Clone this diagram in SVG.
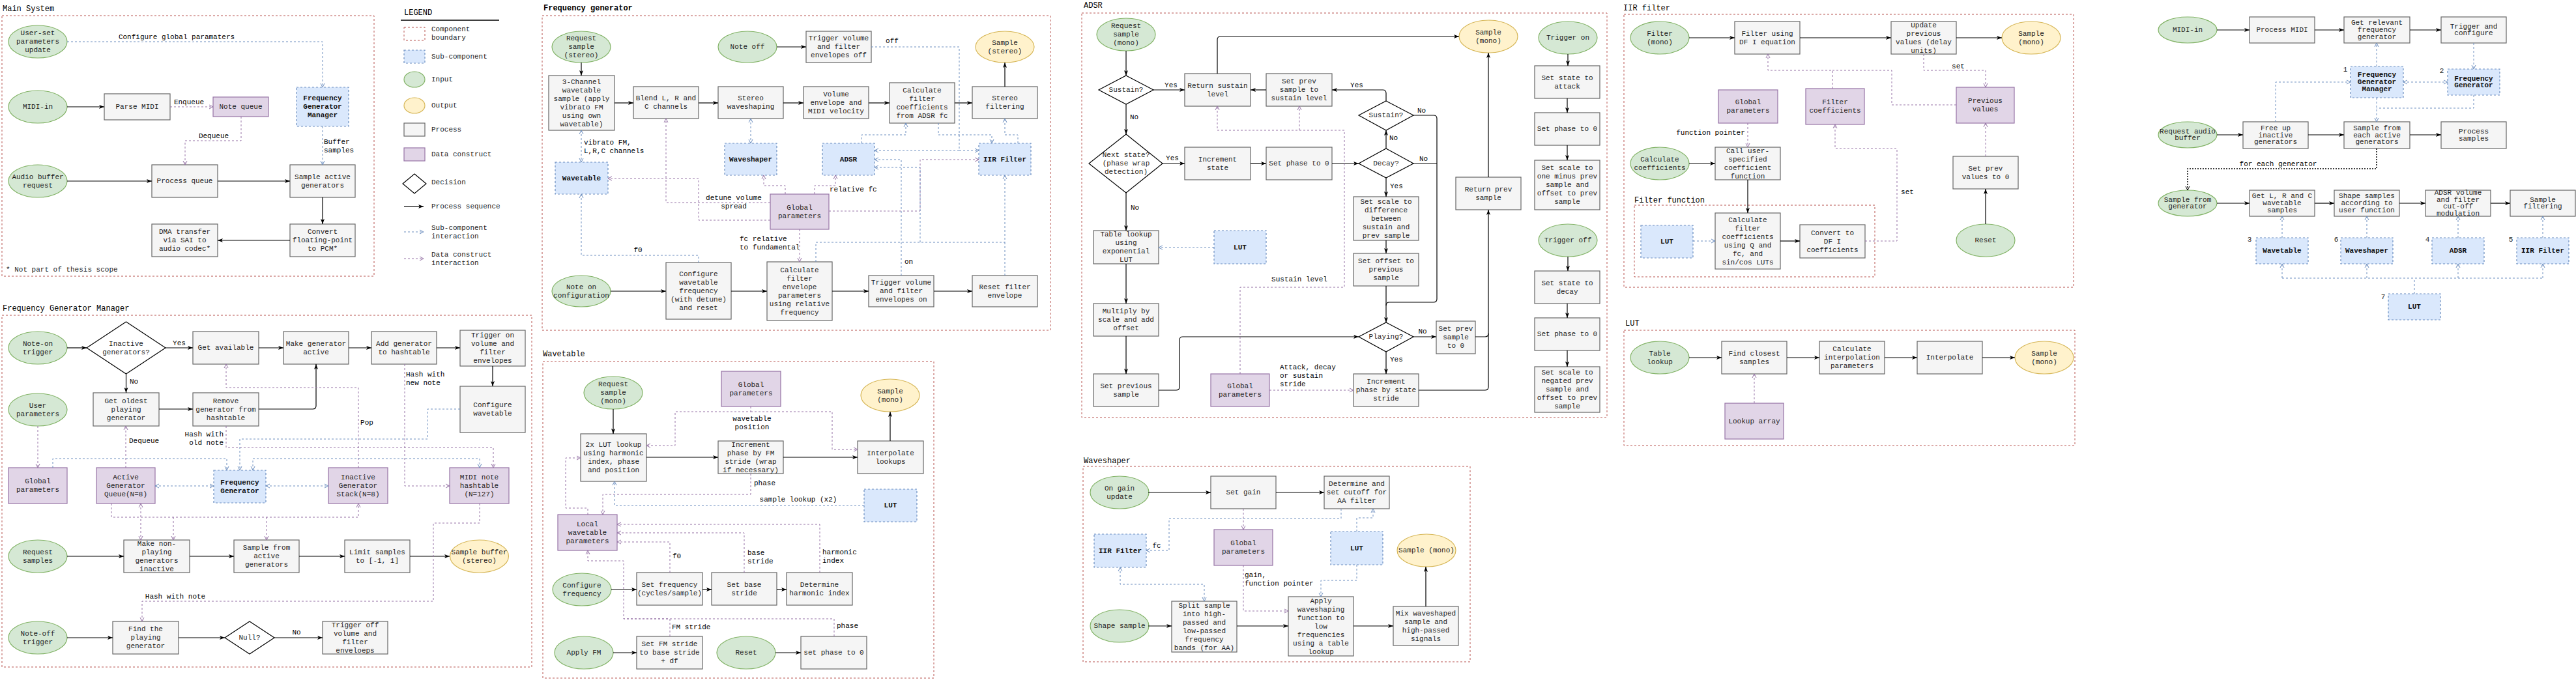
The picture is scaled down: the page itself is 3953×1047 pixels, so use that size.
<svg xmlns="http://www.w3.org/2000/svg" width="3953" height="1047" viewBox="0 0 3953 1047">
<defs>
<style>
text{font-family:"Liberation Mono","DejaVu Sans Mono",monospace;font-size:11px;fill:#222;}
tspan{dominant-baseline:central;}
.t{text-anchor:middle;dominant-baseline:central;}
.l{text-anchor:start;dominant-baseline:central;}
.r{text-anchor:end;dominant-baseline:central;}
.b{font-weight:bold;fill:#111;}
.h{font-size:12px;fill:#000;}
.lb{paint-order:stroke;stroke:#fff;stroke-width:3px;stroke-linejoin:round;fill:#000;}
.proc{fill:#f5f5f5;stroke:#666;stroke-width:1.2;}
.inp{fill:#d5e8d4;stroke:#82b366;stroke-width:1.2;}
.out{fill:#fff2cc;stroke:#d6b656;stroke-width:1.2;}
.data{fill:#e1d5e7;stroke:#9673a6;stroke-width:1.2;}
.sub{fill:#dae8fc;stroke:#6c8ebf;stroke-width:1.2;stroke-dasharray:3 3;}
.dec{fill:#fff;stroke:#000;stroke-width:1.2;}
.frame{fill:none;stroke:#b85450;stroke-width:1;stroke-dasharray:3 3;}
.c{fill:none;stroke:#000;stroke-width:1.2;marker-end:url(#a);}
.cn{fill:none;stroke:#000;stroke-width:1.2;}
.cb{fill:none;stroke:#6c8ebf;stroke-width:1;stroke-dasharray:3 3;marker-end:url(#ab);}
.cbn{fill:none;stroke:#6c8ebf;stroke-width:1;stroke-dasharray:3 3;}
.cb2{marker-start:url(#ab);}
.cp{fill:none;stroke:#9673a6;stroke-width:1;stroke-dasharray:3 3;marker-end:url(#ap);}
.cpn{fill:none;stroke:#9673a6;stroke-width:1;stroke-dasharray:3 3;}
.cp2{marker-start:url(#ap);}
.ck{fill:none;stroke:#000;stroke-width:1.5;stroke-dasharray:2 2;marker-end:url(#ak);}
</style>
<marker id="a" viewBox="0 0 8 8" refX="8" refY="4" markerWidth="8" markerHeight="8" orient="auto-start-reverse" markerUnits="userSpaceOnUse"><path d="M0,1 L8,4 L0,7 L2,4 z" fill="#000"/></marker>
<marker id="ab" viewBox="0 0 8 8" refX="7" refY="4" markerWidth="8" markerHeight="8" orient="auto-start-reverse" markerUnits="userSpaceOnUse"><path d="M1,1 L7,4 L1,7" fill="none" stroke="#6c8ebf" stroke-width="1"/></marker>
<marker id="ap" viewBox="0 0 8 8" refX="7" refY="4" markerWidth="8" markerHeight="8" orient="auto-start-reverse" markerUnits="userSpaceOnUse"><path d="M1,1 L7,4 L1,7" fill="none" stroke="#9673a6" stroke-width="1"/></marker>
<marker id="ak" viewBox="0 0 8 8" refX="7" refY="4" markerWidth="8" markerHeight="8" orient="auto-start-reverse" markerUnits="userSpaceOnUse"><path d="M1,1 L7,4 L1,7" fill="none" stroke="#000" stroke-width="1"/></marker>
</defs>
<rect x="0" y="0" width="3953" height="1047" fill="#fff"/>

<!-- ===== Frames and titles ===== -->
<g id="frames">
<text class="l h" x="4" y="14">Main System</text>
<rect class="frame" x="3" y="24" width="571" height="400"/>
<text class="l h" x="4" y="474">Frequency Generator Manager</text>
<rect class="frame" x="3" y="484" width="813" height="540"/>
<text class="l h b" x="834" y="13">Frequency generator</text>
<rect class="frame" x="832" y="24" width="780" height="483"/>
<text class="l h" x="833" y="544">Wavetable</text>
<rect class="frame" x="833" y="555" width="600" height="486"/>
<text class="l h" x="1663" y="9">ADSR</text>
<rect class="frame" x="1660" y="20" width="806" height="621"/>
<text class="l h" x="1663" y="708">Waveshaper</text>
<rect class="frame" x="1662" y="716" width="594" height="300"/>
<text class="l h" x="2491" y="13">IIR filter</text>
<rect class="frame" x="2492" y="22" width="690" height="419"/>
<text class="l h" x="2508" y="308">Filter function</text>
<rect class="frame" x="2508" y="315" width="369" height="110"/>
<text class="l h" x="2494" y="497">LUT</text>
<rect class="frame" x="2492" y="507" width="692" height="177"/>
</g>

<!-- ===== Legend ===== -->
<g id="legend">
<text class="l h" x="620" y="20">LEGEND</text>
<line x1="615" y1="31" x2="766" y2="31" stroke="#000" stroke-width="1.5"/>
<rect class="frame" x="620" y="42" width="32" height="20" stroke-width="2"/>
<text class="l" x="662" y="45"><tspan x="662">Component</tspan><tspan x="662" dy="13">boundary</tspan></text>
<rect class="sub" x="620" y="77" width="32" height="20" stroke-width="2"/>
<text class="l" x="662" y="87">Sub-component</text>
<ellipse class="inp" cx="636" cy="122" rx="16" ry="12"/>
<text class="l" x="662" y="122">Input</text>
<ellipse class="out" cx="636" cy="162" rx="16" ry="12"/>
<text class="l" x="662" y="162">Output</text>
<rect class="proc" x="620" y="189" width="32" height="20"/>
<text class="l" x="662" y="199">Process</text>
<rect class="data" x="620" y="227" width="32" height="20"/>
<text class="l" x="662" y="237">Data construct</text>
<polygon class="dec" points="636,267 654,282 636,297 618,282"/>
<text class="l" x="662" y="280">Decision</text>
<path class="c" d="M620,317 H650" stroke-width="1.6"/>
<text class="l" x="662" y="317">Process sequence</text>
<path class="cb" d="M620,356 H650"/>
<text class="l" x="662" y="350"><tspan x="662">Sub-component</tspan><tspan x="662" dy="13">interaction</tspan></text>
<path class="cp" d="M620,397 H650"/>
<text class="l" x="662" y="391"><tspan x="662">Data construct</tspan><tspan x="662" dy="13">interaction</tspan></text>
</g>

<!-- ===== Main System nodes ===== -->
<g id="ms-user"><ellipse class="inp" cx="58" cy="64" rx="45" ry="25"/><text class="t" x="58" y="51"><tspan x="58">User-set</tspan><tspan x="58" dy="13">parameters</tspan><tspan x="58" dy="13">update</tspan></text></g>
<g id="ms-midi"><ellipse class="inp" cx="58" cy="164" rx="45" ry="25"/><text class="t" x="58" y="164">MIDI-in</text></g>
<g id="ms-audio"><ellipse class="inp" cx="58" cy="278" rx="45" ry="25"/><text class="t" x="58" y="271.5"><tspan x="58">Audio buffer</tspan><tspan x="58" dy="13">request</tspan></text></g>
<g id="ms-parse"><rect class="proc" x="160" y="144" width="101" height="40"/><text class="t" x="210.5" y="164">Parse MIDI</text></g>
<g id="ms-noteq"><rect class="data" x="327" y="149" width="85" height="30"/><text class="t" x="369.5" y="164">Note queue</text></g>
<g id="ms-fgm"><rect class="sub" x="455" y="134" width="80" height="60"/><text class="t b" x="495" y="151"><tspan x="495">Frequency</tspan><tspan x="495" dy="13">Generator</tspan><tspan x="495" dy="13">Manager</tspan></text></g>
<g id="ms-procq"><rect class="proc" x="233" y="253" width="101" height="50"/><text class="t" x="283.5" y="278">Process queue</text></g>
<g id="ms-sample"><rect class="proc" x="445" y="253" width="100" height="50"/><text class="t" x="495" y="271.5"><tspan x="495">Sample active</tspan><tspan x="495" dy="13">generators</tspan></text></g>
<g id="ms-convert"><rect class="proc" x="445" y="344" width="100" height="50"/><text class="t" x="495" y="356"><tspan x="495">Convert</tspan><tspan x="495" dy="13">floating-point</tspan><tspan x="495" dy="13">to PCM*</tspan></text></g>
<g id="ms-dma"><rect class="proc" x="233" y="344" width="101" height="50"/><text class="t" x="283.5" y="356"><tspan x="283.5">DMA transfer</tspan><tspan x="283.5" dy="13">via SAI to</tspan><tspan x="283.5" dy="13">audio codec*</tspan></text></g>
<g id="ms-note"><text class="l" x="9" y="414">* Not part of thesis scope</text></g>

<!-- ===== FGM nodes ===== -->
<g id="fgm-noteon"><ellipse class="inp" cx="58" cy="534" rx="45" ry="25"/><text class="t" x="58" y="527.5"><tspan x="58">Note-on</tspan><tspan x="58" dy="13">trigger</tspan></text></g>
<g id="fgm-inactive"><polygon class="dec" points="193.5,494 254,534 193.5,574 133,534"/><text class="t" x="193.5" y="527.5"><tspan x="193.5">Inactive</tspan><tspan x="193.5" dy="13">generators?</tspan></text></g>
<g id="fgm-getavail"><rect class="proc" x="296" y="509" width="101" height="50"/><text class="t" x="346.5" y="534">Get available</text></g>
<g id="fgm-make"><rect class="proc" x="435" y="509" width="100" height="50"/><text class="t" x="485" y="527.5"><tspan x="485">Make generator</tspan><tspan x="485" dy="13">active</tspan></text></g>
<g id="fgm-add"><rect class="proc" x="570" y="509" width="100" height="50"/><text class="t" x="620" y="527.5"><tspan x="620">Add generator</tspan><tspan x="620" dy="13">to hashtable</tspan></text></g>
<g id="fgm-trigon"><rect class="proc" x="706" y="507" width="100" height="55"/><text class="t" x="756" y="515"><tspan x="756">Trigger on</tspan><tspan x="756" dy="13">volume and</tspan><tspan x="756" dy="13">filter</tspan><tspan x="756" dy="13">envelopes</tspan></text></g>
<g id="fgm-config"><rect class="proc" x="706" y="593" width="100" height="71"/><text class="t" x="756" y="622"><tspan x="756">Configure</tspan><tspan x="756" dy="13">wavetable</tspan></text></g>
<g id="fgm-user"><ellipse class="inp" cx="58" cy="629" rx="45" ry="25"/><text class="t" x="58" y="622.5"><tspan x="58">User</tspan><tspan x="58" dy="13">parameters</tspan></text></g>
<g id="fgm-oldest"><rect class="proc" x="143" y="603" width="101" height="51"/><text class="t" x="193.5" y="615.5"><tspan x="193.5">Get oldest</tspan><tspan x="193.5" dy="13">playing</tspan><tspan x="193.5" dy="13">generator</tspan></text></g>
<g id="fgm-remove"><rect class="proc" x="296" y="603" width="101" height="51"/><text class="t" x="346.5" y="615.5"><tspan x="346.5">Remove</tspan><tspan x="346.5" dy="13">generator from</tspan><tspan x="346.5" dy="13">hashtable</tspan></text></g>
<g id="fgm-global"><rect class="data" x="13" y="718" width="90" height="55"/><text class="t" x="58" y="739"><tspan x="58">Global</tspan><tspan x="58" dy="13">parameters</tspan></text></g>
<g id="fgm-activeq"><rect class="data" x="148" y="718" width="90" height="55"/><text class="t" x="193" y="732.5"><tspan x="193">Active</tspan><tspan x="193" dy="13">Generator</tspan><tspan x="193" dy="13">Queue(N=8)</tspan></text></g>
<g id="fgm-fg"><rect class="sub" x="328" y="722" width="80" height="50"/><text class="t b" x="368" y="740.5"><tspan x="368">Frequency</tspan><tspan x="368" dy="13">Generator</tspan></text></g>
<g id="fgm-stack"><rect class="data" x="504" y="718" width="91" height="55"/><text class="t" x="549.5" y="732.5"><tspan x="549.5">Inactive</tspan><tspan x="549.5" dy="13">Generator</tspan><tspan x="549.5" dy="13">Stack(N=8)</tspan></text></g>
<g id="fgm-hash"><rect class="data" x="690" y="718" width="91" height="55"/><text class="t" x="735.5" y="732.5"><tspan x="735.5">MIDI note</tspan><tspan x="735.5" dy="13">hashtable</tspan><tspan x="735.5" dy="13">(N=127)</tspan></text></g>
<g id="fgm-req"><ellipse class="inp" cx="58" cy="854" rx="45" ry="25"/><text class="t" x="58" y="847.5"><tspan x="58">Request</tspan><tspan x="58" dy="13">samples</tspan></text></g>
<g id="fgm-makenp"><rect class="proc" x="190" y="829" width="101" height="50"/><text class="t" x="240.5" y="834.5"><tspan x="240.5">Make non-</tspan><tspan x="240.5" dy="13">playing</tspan><tspan x="240.5" dy="13">generators</tspan><tspan x="240.5" dy="13">inactive</tspan></text></g>
<g id="fgm-samplefrom"><rect class="proc" x="359" y="829" width="100" height="50"/><text class="t" x="409" y="841"><tspan x="409">Sample from</tspan><tspan x="409" dy="13">active</tspan><tspan x="409" dy="13">generators</tspan></text></g>
<g id="fgm-limit"><rect class="proc" x="529" y="829" width="100" height="50"/><text class="t" x="579" y="847.5"><tspan x="579">Limit samples</tspan><tspan x="579" dy="13">to [-1, 1]</tspan></text></g>
<g id="fgm-buffer"><ellipse class="out" cx="735.5" cy="854" rx="45" ry="25"/><text class="t" x="735.5" y="847.5"><tspan x="735.5">Sample buffer</tspan><tspan x="735.5" dy="13">(stereo)</tspan></text></g>
<g id="fgm-noteoff"><ellipse class="inp" cx="58" cy="979" rx="45" ry="25"/><text class="t" x="58" y="972.5"><tspan x="58">Note-off</tspan><tspan x="58" dy="13">trigger</tspan></text></g>
<g id="fgm-find"><rect class="proc" x="173" y="954" width="101" height="50"/><text class="t" x="223.5" y="966"><tspan x="223.5">Find the</tspan><tspan x="223.5" dy="13">playing</tspan><tspan x="223.5" dy="13">generator</tspan></text></g>
<g id="fgm-null"><polygon class="dec" points="383,954 421,979 383,1004 345,979"/><text class="t" x="383" y="979">Null?</text></g>
<g id="fgm-trigoff"><rect class="proc" x="495" y="954" width="100" height="50"/><text class="t" x="545" y="959.5"><tspan x="545">Trigger off</tspan><tspan x="545" dy="13">volume and</tspan><tspan x="545" dy="13">filter</tspan><tspan x="545" dy="13">enveloeps</tspan></text></g>

<!-- ===== Frequency generator nodes ===== -->
<g id="fg-req"><ellipse class="inp" cx="892" cy="72" rx="45" ry="24"/><text class="t" x="892" y="59"><tspan x="892">Request</tspan><tspan x="892" dy="13">sample</tspan><tspan x="892" dy="13">(stereo)</tspan></text></g>
<g id="fg-3ch"><rect class="proc" x="842" y="116" width="101" height="84"/><text class="t" x="892.5" y="125.5"><tspan x="892.5">3-Channel</tspan><tspan x="892.5" dy="13">wavetable</tspan><tspan x="892.5" dy="13">sample (apply</tspan><tspan x="892.5" dy="13">vibrato FM</tspan><tspan x="892.5" dy="13">using own</tspan><tspan x="892.5" dy="13">wavetable)</tspan></text></g>
<g id="fg-blend"><rect class="proc" x="972" y="133" width="100" height="49"/><text class="t" x="1022" y="151"><tspan x="1022">Blend L, R and</tspan><tspan x="1022" dy="13">C channels</tspan></text></g>
<g id="fg-shape"><rect class="proc" x="1102" y="133" width="100" height="49"/><text class="t" x="1152" y="151"><tspan x="1152">Stereo</tspan><tspan x="1152" dy="13">waveshaping</tspan></text></g>
<g id="fg-vol"><rect class="proc" x="1233" y="133" width="100" height="49"/><text class="t" x="1283" y="144.5"><tspan x="1283">Volume</tspan><tspan x="1283" dy="13">envelope and</tspan><tspan x="1283" dy="13">MIDI velocity</tspan></text></g>
<g id="fg-calc"><rect class="proc" x="1365" y="127" width="100" height="62"/><text class="t" x="1415" y="138.5"><tspan x="1415">Calculate</tspan><tspan x="1415" dy="13">filter</tspan><tspan x="1415" dy="13">coefficients</tspan><tspan x="1415" dy="13">from ADSR fc</tspan></text></g>
<g id="fg-filt"><rect class="proc" x="1492" y="133" width="100" height="49"/><text class="t" x="1542" y="151"><tspan x="1542">Stereo</tspan><tspan x="1542" dy="13">filtering</tspan></text></g>
<g id="fg-out"><ellipse class="out" cx="1542" cy="72" rx="45" ry="24"/><text class="t" x="1542" y="65.5"><tspan x="1542">Sample</tspan><tspan x="1542" dy="13">(stereo)</tspan></text></g>
<g id="fg-noteoff"><ellipse class="inp" cx="1147" cy="72" rx="45" ry="24"/><text class="t" x="1147" y="72">Note off</text></g>
<g id="fg-trigoff"><rect class="proc" x="1237" y="48" width="100" height="48"/><text class="t" x="1287" y="59"><tspan x="1287">Trigger volume</tspan><tspan x="1287" dy="13">and filter</tspan><tspan x="1287" dy="13">envelopes off</tspan></text></g>
<g id="fg-wt"><rect class="sub" x="852" y="249" width="81" height="49"/><text class="t b" x="892.5" y="273.5">Wavetable</text></g>
<g id="fg-ws"><rect class="sub" x="1112" y="220" width="80" height="49"/><text class="t b" x="1152" y="244.5">Waveshaper</text></g>
<g id="fg-global"><rect class="data" x="1182" y="298" width="90" height="54"/><text class="t" x="1227" y="318.5"><tspan x="1227">Global</tspan><tspan x="1227" dy="13">parameters</tspan></text></g>
<g id="fg-adsr"><rect class="sub" x="1262" y="220" width="80" height="49"/><text class="t b" x="1302" y="244.5">ADSR</text></g>
<g id="fg-iir"><rect class="sub" x="1502" y="220" width="80" height="49"/><text class="t b" x="1542" y="244.5">IIR Filter</text></g>
<g id="fg-noteon"><ellipse class="inp" cx="892" cy="447" rx="45" ry="24"/><text class="t" x="892" y="440.5"><tspan x="892">Note on</tspan><tspan x="892" dy="13">configuration</tspan></text></g>
<g id="fg-cfg"><rect class="proc" x="1022" y="403" width="100" height="87"/><text class="t" x="1072" y="420.5"><tspan x="1072">Configure</tspan><tspan x="1072" dy="13">wavetable</tspan><tspan x="1072" dy="13">frequency</tspan><tspan x="1072" dy="13">(with detune)</tspan><tspan x="1072" dy="13">and reset</tspan></text></g>
<g id="fg-calcenv"><rect class="proc" x="1177" y="402" width="100" height="90"/><text class="t" x="1227" y="414.5"><tspan x="1227">Calculate</tspan><tspan x="1227" dy="13">filter</tspan><tspan x="1227" dy="13">envelope</tspan><tspan x="1227" dy="13">parameters</tspan><tspan x="1227" dy="13">using relative</tspan><tspan x="1227" dy="13">frequency</tspan></text></g>
<g id="fg-trigon"><rect class="proc" x="1333" y="423" width="100" height="48"/><text class="t" x="1383" y="434"><tspan x="1383">Trigger volume</tspan><tspan x="1383" dy="13">and filter</tspan><tspan x="1383" dy="13">envelopes on</tspan></text></g>
<g id="fg-reset"><rect class="proc" x="1492" y="423" width="100" height="48"/><text class="t" x="1542" y="440.5"><tspan x="1542">Reset filter</tspan><tspan x="1542" dy="13">envelope</tspan></text></g>

<!-- ===== Wavetable nodes ===== -->
<g id="wt-req"><ellipse class="inp" cx="941" cy="603" rx="45" ry="25"/><text class="t" x="941" y="590"><tspan x="941">Request</tspan><tspan x="941" dy="13">sample</tspan><tspan x="941" dy="13">(mono)</tspan></text></g>
<g id="wt-global"><rect class="data" x="1107" y="570" width="91" height="54"/><text class="t" x="1152.5" y="590.5"><tspan x="1152.5">Global</tspan><tspan x="1152.5" dy="13">parameters</tspan></text></g>
<g id="wt-out"><ellipse class="out" cx="1366" cy="607" rx="45" ry="25"/><text class="t" x="1366" y="600.5"><tspan x="1366">Sample</tspan><tspan x="1366" dy="13">(mono)</tspan></text></g>
<g id="wt-lut2"><rect class="proc" x="891" y="666" width="101" height="73"/><text class="t" x="941.5" y="683"><tspan x="941.5">2x LUT lookup</tspan><tspan x="941.5" dy="13">using harmonic</tspan><tspan x="941.5" dy="13">index, phase</tspan><tspan x="941.5" dy="13">and position</tspan></text></g>
<g id="wt-inc"><rect class="proc" x="1102" y="677" width="100" height="50"/><text class="t" x="1152" y="682.5"><tspan x="1152">Increment</tspan><tspan x="1152" dy="13">phase by FM</tspan><tspan x="1152" dy="13">stride (wrap</tspan><tspan x="1152" dy="13">if necessary)</tspan></text></g>
<g id="wt-interp"><rect class="proc" x="1316" y="677" width="101" height="50"/><text class="t" x="1366.5" y="695.5"><tspan x="1366.5">Interpolate</tspan><tspan x="1366.5" dy="13">lookups</tspan></text></g>
<g id="wt-lut"><rect class="sub" x="1326" y="751" width="81" height="50"/><text class="t b" x="1366.5" y="776">LUT</text></g>
<g id="wt-local"><rect class="data" x="856" y="790" width="91" height="55"/><text class="t" x="901.5" y="804.5"><tspan x="901.5">Local</tspan><tspan x="901.5" dy="13">wavetable</tspan><tspan x="901.5" dy="13">parameters</tspan></text></g>
<g id="wt-cfg"><ellipse class="inp" cx="893" cy="905" rx="45" ry="25"/><text class="t" x="893" y="898.5"><tspan x="893">Configure</tspan><tspan x="893" dy="13">frequency</tspan></text></g>
<g id="wt-setf"><rect class="proc" x="977" y="879" width="101" height="50"/><text class="t" x="1027.5" y="897.5"><tspan x="1027.5">Set frequency</tspan><tspan x="1027.5" dy="13">(cycles/sample)</tspan></text></g>
<g id="wt-base"><rect class="proc" x="1092" y="879" width="100" height="50"/><text class="t" x="1142" y="897.5"><tspan x="1142">Set base</tspan><tspan x="1142" dy="13">stride</tspan></text></g>
<g id="wt-harm"><rect class="proc" x="1207" y="879" width="101" height="50"/><text class="t" x="1257.5" y="897.5"><tspan x="1257.5">Determine</tspan><tspan x="1257.5" dy="13">harmonic index</tspan></text></g>
<g id="wt-fm"><ellipse class="inp" cx="896" cy="1002" rx="45" ry="25"/><text class="t" x="896" y="1002">Apply FM</text></g>
<g id="wt-setfm"><rect class="proc" x="977" y="977" width="101" height="50"/><text class="t" x="1027.5" y="989"><tspan x="1027.5">Set FM stride</tspan><tspan x="1027.5" dy="13">to base stride</tspan><tspan x="1027.5" dy="13">+ df</tspan></text></g>
<g id="wt-reset"><ellipse class="inp" cx="1145" cy="1002" rx="45" ry="25"/><text class="t" x="1145" y="1002">Reset</text></g>
<g id="wt-phase"><rect class="proc" x="1229" y="977" width="101" height="50"/><text class="t" x="1279.5" y="1002">set phase to 0</text></g>

<!-- ===== ADSR nodes ===== -->
<g id="ad-req"><ellipse class="inp" cx="1728" cy="53" rx="45" ry="25"/><text class="t" x="1728" y="40"><tspan x="1728">Request</tspan><tspan x="1728" dy="13">sample</tspan><tspan x="1728" dy="13">(mono)</tspan></text></g>
<g id="ad-sus1"><polygon class="dec" points="1728,116 1770,138 1728,160 1686,138"/><text class="t" x="1728" y="138">Sustain?</text></g>
<g id="ad-retsus"><rect class="proc" x="1818" y="113" width="101" height="50"/><text class="t" x="1868.5" y="131.5"><tspan x="1868.5">Return sustain</tspan><tspan x="1868.5" dy="13">level</tspan></text></g>
<g id="ad-setprev"><rect class="proc" x="1943" y="113" width="101" height="50"/><text class="t" x="1993.5" y="125"><tspan x="1993.5">Set prev</tspan><tspan x="1993.5" dy="13">sample to</tspan><tspan x="1993.5" dy="13">sustain level</tspan></text></g>
<g id="ad-out"><ellipse class="out" cx="2284" cy="56" rx="45" ry="25"/><text class="t" x="2284" y="49.5"><tspan x="2284">Sample</tspan><tspan x="2284" dy="13">(mono)</tspan></text></g>
<g id="ad-trigon"><ellipse class="inp" cx="2406" cy="58" rx="45" ry="25"/><text class="t" x="2406" y="58">Trigger on</text></g>
<g id="ad-attack"><rect class="proc" x="2355" y="101" width="100" height="50"/><text class="t" x="2405" y="119.5"><tspan x="2405">Set state to</tspan><tspan x="2405" dy="13">attack</tspan></text></g>
<g id="ad-phase1"><rect class="proc" x="2355" y="173" width="100" height="50"/><text class="t" x="2405" y="198">Set phase to 0</text></g>
<g id="ad-scale1"><rect class="proc" x="2355" y="246" width="100" height="76"/><text class="t" x="2405" y="258"><tspan x="2405">Set scale to</tspan><tspan x="2405" dy="13">one minus prev</tspan><tspan x="2405" dy="13">sample and</tspan><tspan x="2405" dy="13">offset to prev</tspan><tspan x="2405" dy="13">sample</tspan></text></g>
<g id="ad-next"><polygon class="dec" points="1728,206 1784,251 1728,296 1671,251"/><text class="t" x="1728" y="238"><tspan x="1728">Next state?</tspan><tspan x="1728" dy="13">(phase wrap</tspan><tspan x="1728" dy="13">detection)</tspan></text></g>
<g id="ad-incstate"><rect class="proc" x="1818" y="226" width="101" height="50"/><text class="t" x="1868.5" y="244.5"><tspan x="1868.5">Increment</tspan><tspan x="1868.5" dy="13">state</tspan></text></g>
<g id="ad-phase0"><rect class="proc" x="1943" y="226" width="101" height="50"/><text class="t" x="1993.5" y="251">Set phase to 0</text></g>
<g id="ad-sus2"><polygon class="dec" points="2127,155 2169,177 2127,200 2085,177"/><text class="t" x="2127" y="177">Sustain?</text></g>
<g id="ad-decay"><polygon class="dec" points="2127,228 2169,251 2127,273 2085,251"/><text class="t" x="2127" y="251">Decay?</text></g>
<g id="ad-scale2"><rect class="proc" x="2077" y="302" width="100" height="67"/><text class="t" x="2127" y="309.5"><tspan x="2127">Set scale to</tspan><tspan x="2127" dy="13">difference</tspan><tspan x="2127" dy="13">between</tspan><tspan x="2127" dy="13">sustain and</tspan><tspan x="2127" dy="13">prev sample</tspan></text></g>
<g id="ad-retprev"><rect class="proc" x="2234" y="272" width="100" height="50"/><text class="t" x="2284" y="290.5"><tspan x="2284">Return prev</tspan><tspan x="2284" dy="13">sample</tspan></text></g>
<g id="ad-table"><rect class="proc" x="1678" y="354" width="100" height="51"/><text class="t" x="1728" y="360"><tspan x="1728">Table lookup</tspan><tspan x="1728" dy="13">using</tspan><tspan x="1728" dy="13">exponential</tspan><tspan x="1728" dy="13">LUT</tspan></text></g>
<g id="ad-lut"><rect class="sub" x="1863" y="354" width="80" height="51"/><text class="t b" x="1903" y="379.5">LUT</text></g>
<g id="ad-offset"><rect class="proc" x="2077" y="389" width="100" height="50"/><text class="t" x="2127" y="401"><tspan x="2127">Set offset to</tspan><tspan x="2127" dy="13">previous</tspan><tspan x="2127" dy="13">sample</tspan></text></g>
<g id="ad-trigoff"><ellipse class="inp" cx="2406" cy="369" rx="45" ry="25"/><text class="t" x="2406" y="369">Trigger off</text></g>
<g id="ad-decaystate"><rect class="proc" x="2355" y="416" width="100" height="50"/><text class="t" x="2405" y="434.5"><tspan x="2405">Set state to</tspan><tspan x="2405" dy="13">decay</tspan></text></g>
<g id="ad-phase2"><rect class="proc" x="2355" y="488" width="100" height="50"/><text class="t" x="2405" y="513">Set phase to 0</text></g>
<g id="ad-scale3"><rect class="proc" x="2355" y="563" width="100" height="70"/><text class="t" x="2405" y="572"><tspan x="2405">Set scale to</tspan><tspan x="2405" dy="13">negated prev</tspan><tspan x="2405" dy="13">sample and</tspan><tspan x="2405" dy="13">offset to prev</tspan><tspan x="2405" dy="13">sample</tspan></text></g>
<g id="ad-mult"><rect class="proc" x="1678" y="466" width="100" height="50"/><text class="t" x="1728" y="478"><tspan x="1728">Multiply by</tspan><tspan x="1728" dy="13">scale and add</tspan><tspan x="1728" dy="13">offset</tspan></text></g>
<g id="ad-setprevs"><rect class="proc" x="1678" y="574" width="100" height="50"/><text class="t" x="1728" y="592.5"><tspan x="1728">Set previous</tspan><tspan x="1728" dy="13">sample</tspan></text></g>
<g id="ad-global"><rect class="data" x="1858" y="574" width="90" height="50"/><text class="t" x="1903" y="592.5"><tspan x="1903">Global</tspan><tspan x="1903" dy="13">parameters</tspan></text></g>
<g id="ad-playing"><polygon class="dec" points="2127,495 2169,517 2127,540 2085,517"/><text class="t" x="2127" y="517">Playing?</text></g>
<g id="ad-prev0"><rect class="proc" x="2204" y="493" width="60" height="50"/><text class="t" x="2234" y="505"><tspan x="2234">Set prev</tspan><tspan x="2234" dy="13">sample</tspan><tspan x="2234" dy="13">to 0</tspan></text></g>
<g id="ad-incphase"><rect class="proc" x="2077" y="574" width="100" height="50"/><text class="t" x="2127" y="586"><tspan x="2127">Increment</tspan><tspan x="2127" dy="13">phase by state</tspan><tspan x="2127" dy="13">stride</tspan></text></g>

<!-- ===== Waveshaper nodes ===== -->
<g id="ws-gain"><ellipse class="inp" cx="1718" cy="756" rx="45" ry="25"/><text class="t" x="1718" y="749.5"><tspan x="1718">On gain</tspan><tspan x="1718" dy="13">update</tspan></text></g>
<g id="ws-setgain"><rect class="proc" x="1858" y="731" width="100" height="50"/><text class="t" x="1908" y="756">Set gain</text></g>
<g id="ws-det"><rect class="proc" x="2032" y="731" width="100" height="50"/><text class="t" x="2082" y="743"><tspan x="2082">Determine and</tspan><tspan x="2082" dy="13">set cutoff for</tspan><tspan x="2082" dy="13">AA filter</tspan></text></g>
<g id="ws-iir"><rect class="sub" x="1679" y="820" width="80" height="51"/><text class="t b" x="1719" y="845.5">IIR Filter</text></g>
<g id="ws-global"><rect class="data" x="1863" y="813" width="90" height="55"/><text class="t" x="1908" y="834"><tspan x="1908">Global</tspan><tspan x="1908" dy="13">parameters</tspan></text></g>
<g id="ws-lut"><rect class="sub" x="2042" y="816" width="80" height="51"/><text class="t b" x="2082" y="841.5">LUT</text></g>
<g id="ws-out"><ellipse class="out" cx="2189" cy="845" rx="45" ry="25"/><text class="t" x="2189" y="845">Sample (mono)</text></g>
<g id="ws-shape"><ellipse class="inp" cx="1718" cy="961" rx="45" ry="25"/><text class="t" x="1718" y="961">Shape sample</text></g>
<g id="ws-split"><rect class="proc" x="1798" y="923" width="100" height="78"/><text class="t" x="1848" y="929.5"><tspan x="1848">Split sample</tspan><tspan x="1848" dy="13">into high-</tspan><tspan x="1848" dy="13">passed and</tspan><tspan x="1848" dy="13">low-passed</tspan><tspan x="1848" dy="13">frequency</tspan><tspan x="1848" dy="13">bands (for AA)</tspan></text></g>
<g id="ws-apply"><rect class="proc" x="1977" y="916" width="100" height="91"/><text class="t" x="2027" y="922.5"><tspan x="2027">Apply</tspan><tspan x="2027" dy="13">waveshaping</tspan><tspan x="2027" dy="13">function to</tspan><tspan x="2027" dy="13">low</tspan><tspan x="2027" dy="13">frequencies</tspan><tspan x="2027" dy="13">using a table</tspan><tspan x="2027" dy="13">lookup</tspan></text></g>
<g id="ws-mix"><rect class="proc" x="2138" y="931" width="100" height="60"/><text class="t" x="2188" y="941.5"><tspan x="2188">Mix waveshaped</tspan><tspan x="2188" dy="13">sample and</tspan><tspan x="2188" dy="13">high-passed</tspan><tspan x="2188" dy="13">signals</tspan></text></g>

<!-- ===== IIR filter nodes ===== -->
<g id="iir-in"><ellipse class="inp" cx="2547" cy="58" rx="45" ry="25"/><text class="t" x="2547" y="51.5"><tspan x="2547">Filter</tspan><tspan x="2547" dy="13">(mono)</tspan></text></g>
<g id="iir-fu"><rect class="proc" x="2662" y="33" width="100" height="50"/><text class="t" x="2712" y="51.5"><tspan x="2712">Filter using</tspan><tspan x="2712" dy="13">DF I equation</tspan></text></g>
<g id="iir-upd"><rect class="proc" x="2902" y="33" width="100" height="50"/><text class="t" x="2952" y="38.5"><tspan x="2952">Update</tspan><tspan x="2952" dy="13">previous</tspan><tspan x="2952" dy="13">values (delay</tspan><tspan x="2952" dy="13">units)</tspan></text></g>
<g id="iir-out"><ellipse class="out" cx="3117" cy="58" rx="45" ry="25"/><text class="t" x="3117" y="51.5"><tspan x="3117">Sample</tspan><tspan x="3117" dy="13">(mono)</tspan></text></g>
<g id="iir-global"><rect class="data" x="2637" y="138" width="91" height="51"/><text class="t" x="2682.5" y="157"><tspan x="2682.5">Global</tspan><tspan x="2682.5" dy="13">parameters</tspan></text></g>
<g id="iir-coef"><rect class="data" x="2771" y="136" width="90" height="55"/><text class="t" x="2816" y="157"><tspan x="2816">Filter</tspan><tspan x="2816" dy="13">coefficients</tspan></text></g>
<g id="iir-prev"><rect class="data" x="3002" y="134" width="89" height="55"/><text class="t" x="3046.5" y="155"><tspan x="3046.5">Previous</tspan><tspan x="3046.5" dy="13">values</tspan></text></g>
<g id="iir-calc"><ellipse class="inp" cx="2547" cy="251" rx="45" ry="25"/><text class="t" x="2547" y="244.5"><tspan x="2547">Calculate</tspan><tspan x="2547" dy="13">coefficients</tspan></text></g>
<g id="iir-call"><rect class="proc" x="2632" y="226" width="100" height="50"/><text class="t" x="2682" y="231.5"><tspan x="2682">Call user-</tspan><tspan x="2682" dy="13">specified</tspan><tspan x="2682" dy="13">coefficient</tspan><tspan x="2682" dy="13">function</tspan></text></g>
<g id="iir-setprev"><rect class="proc" x="2997" y="240" width="100" height="50"/><text class="t" x="3047" y="258.5"><tspan x="3047">Set prev</tspan><tspan x="3047" dy="13">values to 0</tspan></text></g>
<g id="iir-lut"><rect class="sub" x="2518" y="346" width="80" height="50"/><text class="t b" x="2558" y="371">LUT</text></g>
<g id="iir-calcf"><rect class="proc" x="2632" y="327" width="100" height="86"/><text class="t" x="2682" y="337.5"><tspan x="2682">Calculate</tspan><tspan x="2682" dy="13">filter</tspan><tspan x="2682" dy="13">coefficients</tspan><tspan x="2682" dy="13">using Q and</tspan><tspan x="2682" dy="13">fc, and</tspan><tspan x="2682" dy="13">sin/cos LUTs</tspan></text></g>
<g id="iir-conv"><rect class="proc" x="2762" y="345" width="100" height="51"/><text class="t" x="2812" y="357.5"><tspan x="2812">Convert to</tspan><tspan x="2812" dy="13">DF I</tspan><tspan x="2812" dy="13">coefficients</tspan></text></g>
<g id="iir-reset"><ellipse class="inp" cx="3047" cy="369" rx="45" ry="25"/><text class="t" x="3047" y="369">Reset</text></g>

<!-- ===== LUT nodes ===== -->
<g id="lut-in"><ellipse class="inp" cx="2547" cy="549" rx="45" ry="25"/><text class="t" x="2547" y="542.5"><tspan x="2547">Table</tspan><tspan x="2547" dy="13">lookup</tspan></text></g>
<g id="lut-find"><rect class="proc" x="2642" y="524" width="100" height="50"/><text class="t" x="2692" y="542.5"><tspan x="2692">Find closest</tspan><tspan x="2692" dy="13">samples</tspan></text></g>
<g id="lut-calc"><rect class="proc" x="2792" y="524" width="100" height="50"/><text class="t" x="2842" y="536"><tspan x="2842">Calculate</tspan><tspan x="2842" dy="13">interpolation</tspan><tspan x="2842" dy="13">parameters</tspan></text></g>
<g id="lut-interp"><rect class="proc" x="2942" y="524" width="100" height="50"/><text class="t" x="2992" y="549">Interpolate</text></g>
<g id="lut-out"><ellipse class="out" cx="3137" cy="549" rx="45" ry="25"/><text class="t" x="3137" y="542.5"><tspan x="3137">Sample</tspan><tspan x="3137" dy="13">(mono)</tspan></text></g>
<g id="lut-array"><rect class="data" x="2647" y="619" width="90" height="55"/><text class="t" x="2692" y="646.5">Lookup array</text></g>

<!-- ===== Overview nodes ===== -->
<g id="ov-midi"><ellipse class="inp" cx="3357" cy="46" rx="45" ry="20"/><text class="t" x="3357" y="46">MIDI-in</text></g>
<g id="ov-proc"><rect class="proc" x="3452" y="26" width="100" height="40"/><text class="t" x="3502" y="46">Process MIDI</text></g>
<g id="ov-get"><rect class="proc" x="3597" y="26" width="101" height="40"/><text class="t" x="3647.5" y="35.3"><tspan x="3647.5">Get relevant</tspan><tspan x="3647.5" dy="10.7">frequency</tspan><tspan x="3647.5" dy="10.7">generator</tspan></text></g>
<g id="ov-trig"><rect class="proc" x="3746" y="26" width="100" height="40"/><text class="t" x="3796" y="40.6"><tspan x="3796">Trigger and</tspan><tspan x="3796" dy="10.7">configure</tspan></text></g>
<g id="ov-fgm"><rect class="sub" x="3607" y="102" width="81" height="48"/><text class="t b" x="3647.5" y="115.3"><tspan x="3647.5">Frequency</tspan><tspan x="3647.5" dy="10.7">Generator</tspan><tspan x="3647.5" dy="10.7">Manager</tspan></text><text class="t" x="3599" y="107">1</text></g>
<g id="ov-fg"><rect class="sub" x="3756" y="106" width="80" height="40"/><text class="t b" x="3796" y="120.6"><tspan x="3796">Frequency</tspan><tspan x="3796" dy="10.7">Generator</tspan></text><text class="t" x="3747" y="109">2</text></g>
<g id="ov-req"><ellipse class="inp" cx="3357" cy="207" rx="45" ry="20"/><text class="t" x="3357" y="201.6"><tspan x="3357">Request audio</tspan><tspan x="3357" dy="10.7">buffer</tspan></text></g>
<g id="ov-free"><rect class="proc" x="3442" y="187" width="100" height="41"/><text class="t" x="3492" y="196.8"><tspan x="3492">Free up</tspan><tspan x="3492" dy="10.7">inactive</tspan><tspan x="3492" dy="10.7">generators</tspan></text></g>
<g id="ov-samp"><rect class="proc" x="3597" y="187" width="101" height="41"/><text class="t" x="3647.5" y="196.8"><tspan x="3647.5">Sample from</tspan><tspan x="3647.5" dy="10.7">each active</tspan><tspan x="3647.5" dy="10.7">generators</tspan></text></g>
<g id="ov-procs"><rect class="proc" x="3746" y="187" width="100" height="41"/><text class="t" x="3796" y="202.2"><tspan x="3796">Process</tspan><tspan x="3796" dy="10.7">samples</tspan></text></g>
<g id="ov-sgen"><ellipse class="inp" cx="3357" cy="312" rx="45" ry="20"/><text class="t" x="3357" y="306.6"><tspan x="3357">Sample from</tspan><tspan x="3357" dy="10.7">generator</tspan></text></g>
<g id="ov-getl"><rect class="proc" x="3452" y="292" width="100" height="40"/><text class="t" x="3502" y="301.3"><tspan x="3502">Get L, R and C</tspan><tspan x="3502" dy="10.7">wavetable</tspan><tspan x="3502" dy="10.7">samples</tspan></text></g>
<g id="ov-shape"><rect class="proc" x="3582" y="292" width="100" height="40"/><text class="t" x="3632" y="301.3"><tspan x="3632">Shape samples</tspan><tspan x="3632" dy="10.7">according to</tspan><tspan x="3632" dy="10.7">user function</tspan></text></g>
<g id="ov-adsrv"><rect class="proc" x="3722" y="292" width="100" height="40"/><text class="t" x="3772" y="296"><tspan x="3772">ADSR volume</tspan><tspan x="3772" dy="10.7">and filter</tspan><tspan x="3772" dy="10.7">cut-off</tspan><tspan x="3772" dy="10.7">modulation</tspan></text></g>
<g id="ov-filt"><rect class="proc" x="3852" y="292" width="100" height="40"/><text class="t" x="3902" y="306.6"><tspan x="3902">Sample</tspan><tspan x="3902" dy="10.7">filtering</tspan></text></g>
<g id="ov-wt"><rect class="sub" x="3462" y="365" width="80" height="40"/><text class="t b" x="3502" y="385">Wavetable</text><text class="t" x="3452" y="368">3</text></g>
<g id="ov-ws"><rect class="sub" x="3592" y="365" width="80" height="40"/><text class="t b" x="3632" y="385">Waveshaper</text><text class="t" x="3585" y="368">6</text></g>
<g id="ov-adsr"><rect class="sub" x="3732" y="365" width="80" height="40"/><text class="t b" x="3772" y="385">ADSR</text><text class="t" x="3725" y="368">4</text></g>
<g id="ov-iir"><rect class="sub" x="3862" y="365" width="80" height="40"/><text class="t b" x="3902" y="385">IIR Filter</text><text class="t" x="3853" y="368">5</text></g>
<g id="ov-lut"><rect class="sub" x="3665" y="451" width="80" height="40"/><text class="t b" x="3705" y="471">LUT</text><text class="t" x="3657" y="456">7</text></g>

<!-- ===== Connectors ===== -->
<g id="connectors">
<!-- Main system -->
<path class="cb" d="M103,64 H495 V134"/>
<path class="c" d="M103,164 H160"/>
<path class="cp" d="M261,164 H327"/>
<path class="cp" d="M370,179 V216 H284 V253"/>
<path class="cb" d="M495,194 V253"/>
<path class="c" d="M103,278 H233"/>
<path class="c" d="M334,278 H445"/>
<path class="c" d="M495,303 V344"/>
<path class="c" d="M445,369 H334"/>
<text class="t lb" x="271" y="57">Configure global paramaters</text>
<text class="t lb" x="290" y="157">Enqueue</text>
<text class="t lb" x="328" y="209">Dequeue</text>
<text class="l lb" x="497" y="218"><tspan x="497">Buffer</tspan><tspan x="497" dy="13">samples</tspan></text>

<!-- FGM -->
<path class="c" d="M103,534 H133"/>
<path class="c" d="M254,534 H296"/>
<path class="c" d="M193.5,574 V603"/>
<path class="c" d="M397,534 H435"/>
<path class="c" d="M535,534 H570"/>
<path class="c" d="M670,534 H706"/>
<path class="c" d="M756,562 V593"/>
<path class="c" d="M244,628 H296" stroke-width="1.8"/>
<path class="c" d="M397,628 H480 Q485,628 485,623 V559" stroke-width="1.8"/>
<path class="cp" d="M193,718 V654"/>
<path class="cp" d="M58,654 V718"/>
<path class="cp" d="M550,718 V595 H347 V559"/>
<path class="cp" d="M621,559 V746 H690"/>
<path class="cp" d="M347,654 V687 H757 V718"/>
<path class="cb" d="M706,628 H656 V674 H368 V722"/>
<path class="cb" d="M81,718 V704 H348 V722"/>
<path class="cb cb2" d="M388,722 V704 H736 V718"/>
<path class="cb cb2" d="M238,746 H328"/>
<path class="cb cb2" d="M408,746 H504"/>
<path class="cp" d="M171,773 V794 H550 V773"/>
<path class="cp cp2" d="M216,773 V829"/>
<path class="cp" d="M266,794 V829"/>
<path class="cp" d="M409,794 V829"/>
<path class="c" d="M103,854 H190"/>
<path class="c" d="M291,854 H359"/>
<path class="c" d="M459,854 H529"/>
<path class="c" d="M629,854 H690"/>
<path class="cp" d="M736,773 V803 H665 V923 H218 V954"/>
<path class="c" d="M103,979 H173" stroke-width="1.8"/>
<path class="c" d="M274,979 H345" stroke-width="1.8"/>
<path class="c" d="M421,979 H495" stroke-width="1.8"/>
<text class="t lb" x="275" y="527">Yes</text>
<text class="l lb" x="199" y="586">No</text>
<text class="l lb" x="198" y="677">Dequeue</text>
<text class="t lb" x="563" y="649">Pop</text>
<text class="l lb" x="623" y="575"><tspan x="623">Hash with</tspan><tspan x="623" dy="13">new note</tspan></text>
<text class="r lb" x="343" y="667"><tspan x="343">Hash with</tspan><tspan x="343" dy="13">old note</tspan></text>
<text class="t lb" x="269" y="916">Hash with note</text>
<text class="t lb" x="455" y="971">No</text>

<!-- Frequency generator -->
<path class="c" d="M892,96 V116"/>
<path class="c" d="M943,158 H972"/>
<path class="c" d="M1072,158 H1102"/>
<path class="c" d="M1202,158 H1233"/>
<path class="c" d="M1333,158 H1365"/>
<path class="c" d="M1465,158 H1492"/>
<path class="c" d="M1542,133 V96"/>
<path class="c" d="M1192,72 H1237"/>
<path class="c" d="M937,447 H1022"/>
<path class="c" d="M1122,447 H1177"/>
<path class="c" d="M1277,447 H1333"/>
<path class="c" d="M1433,447 H1492"/>
<path class="cb cb2" d="M892,200 V249"/>
<path class="cb cb2" d="M1152,182 V220"/>
<path class="cp" d="M1182,311 H1022 V182"/>
<path class="cp" d="M1182,338 H1072 V274 H933"/>
<path class="cp" d="M1205,298 V285 H1172 V269"/>
<path class="cp" d="M1250,298 V285 H1282 V269"/>
<path class="cp" d="M1272,324 H1412 V245 H1502"/>
<path class="cp" d="M1227,352 V402"/>
<path class="cb" d="M1072,403 V392 H892 V298"/>
<path class="cb" d="M1322,220 V207 H1390 V189"/>
<path class="cb" d="M1440,189 V207 H1522 V220"/>
<path class="cb" d="M1562,220 V207 H1542 V182"/>
<path class="cb" d="M1337,72 H1472 V231 H1342"/>
<path class="cb" d="M1472,231 H1502"/>
<path class="cb" d="M1383,423 V245 H1342"/>
<path class="cb" d="M1252,402 V372 H1542 V269"/>
<path class="cb" d="M1412,372 V257 H1342"/>
<path class="cbn" d="M1542,423 V372"/>
<text class="l lb" x="896" y="219"><tspan x="896">vibrato FM,</tspan><tspan x="896" dy="13">L,R,C channels</tspan></text>
<text class="t lb" x="1126" y="304"><tspan x="1126">detune volume</tspan><tspan x="1126" dy="13">spread</tspan></text>
<text class="l lb" x="1273" y="291">relative fc</text>
<text class="l lb" x="1135" y="367"><tspan x="1135">fc relative</tspan><tspan x="1135" dy="13">to fundamental</tspan></text>
<text class="t lb" x="979" y="384">f0</text>
<text class="t lb" x="1369" y="63">off</text>
<text class="l lb" x="1388" y="402">on</text>

<!-- Wavetable -->
<path class="c" d="M941,628 V666"/>
<path class="c" d="M992,702 H1102"/>
<path class="c" d="M1202,702 H1316"/>
<path class="c" d="M1366,677 V632"/>
<path class="cp" d="M1152,624 V632 H1036 V684 H992"/>
<path class="cp" d="M1152,632 H1277 V690 H1316"/>
<path class="cp" d="M1152,727 V759 H925 V790"/>
<path class="cb" d="M1326,776 H943 V739"/>
<path class="cp" d="M902,790 V780 H868 V703 H891"/>
<path class="cp" d="M1028,879 V832 H947"/>
<path class="cp" d="M1142,879 V818 H947"/>
<path class="cp" d="M1258,879 V805 H947"/>
<path class="c" d="M938,905 H977"/>
<path class="c" d="M1078,905 H1092"/>
<path class="c" d="M1192,905 H1207"/>
<path class="c" d="M941,1002 H977"/>
<path class="c" d="M1190,1002 H1229"/>
<path class="cp" d="M1028,977 V950 H957 V861 H902 V845"/>
<path class="cpn" d="M1280,977 V950 H957"/>
<text class="t lb" x="1154" y="643"><tspan x="1154">wavetable</tspan><tspan x="1154" dy="13">position</tspan></text>
<text class="l lb" x="1157" y="742">phase</text>
<text class="t lb" x="1225" y="767">sample lookup (x2)</text>
<text class="l lb" x="1032" y="854">f0</text>
<text class="l lb" x="1147" y="849"><tspan x="1147">base</tspan><tspan x="1147" dy="13">stride</tspan></text>
<text class="l lb" x="1262" y="848"><tspan x="1262">harmonic</tspan><tspan x="1262" dy="13">index</tspan></text>
<text class="l lb" x="1031" y="963">FM stride</text>
<text class="l lb" x="1284" y="961">phase</text>

<!-- ADSR -->
<path class="c" d="M1728,78 V116"/>
<path class="c" d="M1770,138 H1818"/>
<path class="c" d="M1728,160 V206"/>
<path class="c" d="M1868,113 V61 Q1868,56 1873,56 H2239"/>
<path class="c" d="M1943,138 H1919"/>
<path class="c" d="M2127,155 V143 Q2127,138 2122,138 H2044"/>
<path class="cn" d="M2169,177 H2200 Q2205,177 2205,182 V459 Q2205,464 2200,464 H2132 Q2127,464 2127,469"/>
<path class="cn" d="M2169,251 H2205"/>
<path class="c" d="M2127,228 V200"/>
<path class="c" d="M2127,273 V302"/>
<path class="c" d="M1784,251 H1818" stroke-width="1.8"/>
<path class="c" d="M1919,251 H1943" stroke-width="1.8"/>
<path class="c" d="M2044,251 H2085" stroke-width="1.8"/>
<path class="c" d="M1728,296 V354"/>
<path class="c" d="M2127,369 V389"/>
<path class="c" d="M2127,439 V495"/>
<path class="c" d="M1728,405 V466"/>
<path class="c" d="M1728,516 V574"/>
<path class="c" d="M1778,599 H1805 Q1810,599 1810,594 V522 Q1810,517 1815,517 H2085"/>
<path class="c" d="M2169,517 H2204"/>
<path class="c" d="M2264,517 H2279 Q2284,517 2284,512 V322"/>
<path class="cn" d="M2177,599 H2279 Q2284,599 2284,594 V512"/>
<path class="c" d="M2284,272 V81"/>
<path class="c" d="M2127,540 V574"/>
<path class="c" d="M2406,83 V101"/>
<path class="c" d="M2405,151 V173"/>
<path class="c" d="M2405,223 V246"/>
<path class="c" d="M2406,394 V416"/>
<path class="c" d="M2405,466 V488"/>
<path class="c" d="M2405,538 V563"/>
<path class="cb" d="M1863,380 H1778"/>
<path class="cp" d="M1948,599 H2077"/>
<path class="cp" d="M1903,574 V441 H2063 V200 H1868 V163"/>
<path class="cp" d="M1994,200 V163"/>
<text class="t lb" x="1797" y="131">Yes</text>
<text class="l lb" x="1734" y="180">No</text>
<text class="t lb" x="2082" y="131">Yes</text>
<text class="l lb" x="2175" y="170">No</text>
<text class="l lb" x="2178" y="244">No</text>
<text class="l lb" x="2132" y="212">No</text>
<text class="l lb" x="2133" y="286">Yes</text>
<text class="t lb" x="1799" y="243">Yes</text>
<text class="l lb" x="1735" y="319">No</text>
<text class="t lb" x="2183" y="509">No</text>
<text class="l lb" x="2133" y="552">Yes</text>
<text class="l lb" x="1964" y="564"><tspan x="1964">Attack, decay</tspan><tspan x="1964" dy="13">or sustain</tspan><tspan x="1964" dy="13">stride</tspan></text>
<text class="t lb" x="1994" y="429">Sustain level</text>

<!-- Waveshaper -->
<path class="c" d="M1762,756 H1858" stroke-width="1.8"/>
<path class="c" d="M1958,756 H2032" stroke-width="1.8"/>
<path class="c" d="M1762,961 H1798"/>
<path class="c" d="M1898,961 H1977"/>
<path class="c" d="M2077,961 H2138"/>
<path class="c" d="M2188,931 V870"/>
<path class="cp" d="M1908,781 V813"/>
<path class="cb" d="M2058,781 V796 H1794 V845 H1759"/>
<path class="cb" d="M2082,816 V795 H2107 V781"/>
<path class="cb cb2" d="M1719,871 V897 H1848 V923"/>
<path class="cp" d="M1908,868 V938 H1977"/>
<path class="cb" d="M2082,867 V891 H2027 V916"/>
<text class="t lb" x="1775" y="838">fc</text>
<text class="l lb" x="1910" y="883"><tspan x="1910">gain,</tspan><tspan x="1910" dy="13">function pointer</tspan></text>

<!-- IIR filter -->
<path class="c" d="M2592,58 H2662"/>
<path class="c" d="M2762,58 H2902"/>
<path class="c" d="M3002,58 H3072"/>
<path class="c" d="M2592,251 H2632" stroke-width="1.8"/>
<path class="c" d="M2682,276 V327"/>
<path class="c" d="M2732,370 H2762"/>
<path class="c" d="M3047,344 V290"/>
<path class="cp" d="M2812,136 V108 H2713 V83"/>
<path class="cpn" d="M3002,161 H2903 V108 H2812"/>
<path class="cp" d="M2952,83 V108 H3047 V134"/>
<path class="cp" d="M2682,189 V226"/>
<path class="cb" d="M2598,370 H2632"/>
<path class="cp" d="M2862,370 H2911 V228 H2816 V191"/>
<path class="cp" d="M3047,240 V189"/>
<text class="t lb" x="3005" y="102">set</text>
<text class="t lb" x="2625" y="204">function pointer</text>
<text class="t lb" x="2927" y="295">set</text>

<!-- LUT -->
<path class="c" d="M2592,549 H2642"/>
<path class="c" d="M2742,549 H2792"/>
<path class="c" d="M2892,549 H2942"/>
<path class="c" d="M3042,549 H3092"/>
<path class="cp" d="M2692,619 V574"/>

<!-- Overview -->
<path class="c" d="M3402,46 H3452"/>
<path class="c" d="M3552,46 H3597"/>
<path class="c" d="M3698,46 H3746"/>
<path class="c" d="M3402,207 H3442"/>
<path class="c" d="M3542,207 H3597"/>
<path class="c" d="M3698,207 H3746"/>
<path class="c" d="M3402,312 H3452"/>
<path class="c" d="M3552,312 H3582"/>
<path class="c" d="M3682,312 H3722"/>
<path class="c" d="M3822,312 H3852"/>
<path class="cb" d="M3647,102 V66"/>
<path class="cb" d="M3796,66 V106"/>
<path class="cb cb2" d="M3688,126 H3756"/>
<path class="cb" d="M3492,187 V126 H3607"/>
<path class="cb" d="M3647,150 V187"/>
<path class="cbn" d="M3796,146 V166 H3647"/>
<path class="ck" d="M3647,228 V259 H3357 V292"/>
<text class="t lb" x="3496" y="252">for each generator</text>
<path class="cb" d="M3502,365 V332"/>
<path class="cb" d="M3632,365 V332"/>
<path class="cb" d="M3772,365 V332"/>
<path class="cb" d="M3902,365 V332"/>
<path class="cbn" d="M3705,451 V427 M3502,427 H3902"/>
<path class="cb" d="M3502,427 V405"/>
<path class="cb" d="M3632,427 V405"/>
<path class="cb" d="M3772,427 V405"/>
<path class="cb" d="M3902,427 V405"/>
</g>
</svg>
